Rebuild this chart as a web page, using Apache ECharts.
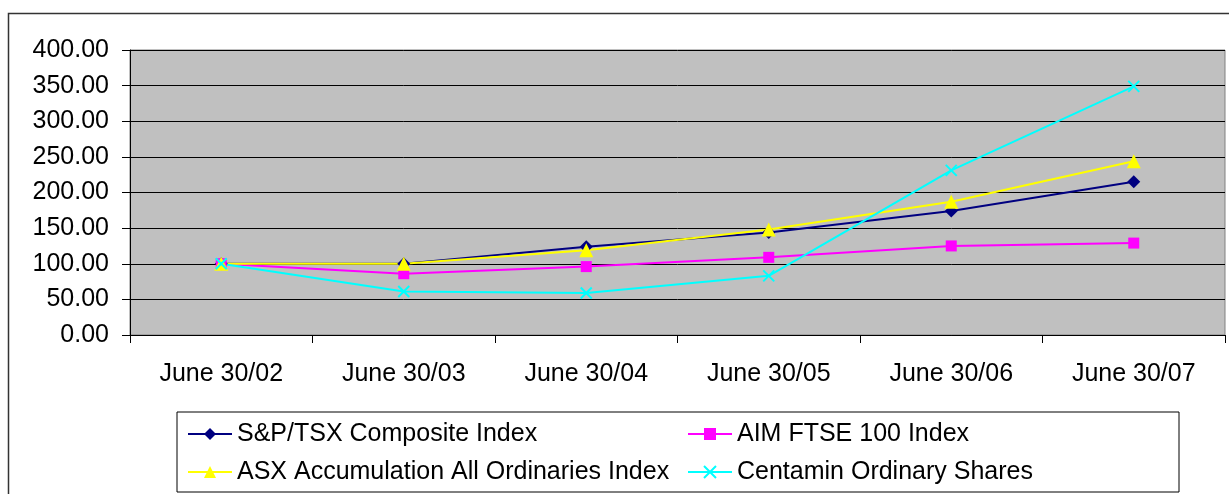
<!DOCTYPE html>
<html>
<head>
<meta charset="utf-8">
<script src="https://cdn.jsdelivr.net/npm/echarts@6/dist/echarts.min.js"></script>
<style>
  html, body { margin: 0; padding: 0; background: #fff; }
  #chart { width: 1229px; height: 494px; }
</style>
</head>
<body>
<div id="chart"></div>
<script>
var categories = ['June 30/02', 'June 30/03', 'June 30/04', 'June 30/05', 'June 30/06', 'June 30/07'];
var spTsx = [100, 100, 124, 144, 174, 215];
var aimFtse = [100, 86, 96, 109, 125, 129];
var asxAcc = [100, 100, 119, 148, 187, 244];
var centamin = [100, 61, 59, 83, 231, 349];

var FONT = "'Liberation Sans', Arial, sans-serif";

var chart = echarts.init(document.getElementById('chart'));

function lineSeries(name, data, color, symbol, size, extra) {
  var s = {
    name: name,
    type: 'line',
    data: data,
    symbol: symbol,
    symbolSize: size,
    showSymbol: true,
    lineStyle: { color: color, width: 2 },
    itemStyle: { color: color, borderWidth: 0 },
    emphasis: { disabled: true }
  };
  if (extra) {
    s.itemStyle = extra;
  }
  return s;
}

var option = {
  animation: false,
  backgroundColor: '#fff',
  textStyle: { fontFamily: FONT },
  // outer frame, cut off at the right and bottom edges
  graphic: [{
    type: 'rect',
    shape: { x: 8.5, y: 13.5, width: 1260, height: 520 },
    style: { fill: 'none', stroke: '#333', lineWidth: 1.5 },
    silent: true
  }],
  grid: {
    left: 130,
    top: 50,
    right: 4,
    bottom: 159,
    show: true,
    backgroundColor: '#C0C0C0',
    borderColor: '#808080',
    borderWidth: 1
  },
  legend: {
    left: 177,
    top: 412,
    width: 1000,
    padding: [7, 0, 5, 10],
    borderColor: '#000',
    borderWidth: 1,
    backgroundColor: '#fff',
    itemWidth: 44,
    itemHeight: 15,
    itemGap: 8,
    textStyle: {
      fontFamily: FONT,
      fontSize: 25,
      color: '#000',
      width: 442,
      lineHeight: 30
    },
    data: ['S&P/TSX Composite Index', 'AIM FTSE 100 Index', 'ASX Accumulation All Ordinaries Index', 'Centamin Ordinary Shares']
  },
  xAxis: {
    type: 'category',
    data: categories,
    boundaryGap: true,
    axisLine: { lineStyle: { color: '#000', width: 1 } },
    axisTick: { show: true, length: 8, lineStyle: { color: '#000' } },
    axisLabel: { fontFamily: FONT, fontSize: 25, color: '#000', margin: 27, interval: 0 },
    splitLine: { show: false }
  },
  yAxis: {
    type: 'value',
    min: 0,
    max: 400,
    interval: 50,
    axisLine: { show: true, lineStyle: { color: '#000', width: 1 } },
    axisTick: { show: true, length: 8, lineStyle: { color: '#000' } },
    axisLabel: {
      fontFamily: FONT,
      fontSize: 25,
      color: '#000',
      margin: 21,
      formatter: function (v) { return v.toFixed(2); }
    },
    splitLine: { show: true, lineStyle: { color: '#000', width: 1 } }
  },
  series: [
    lineSeries('S&P/TSX Composite Index', spTsx, '#000080', 'diamond', 13),
    lineSeries('AIM FTSE 100 Index', aimFtse, '#FF00FF', 'rect', 11),
    lineSeries('ASX Accumulation All Ordinaries Index', asxAcc, '#FFFF00', 'triangle', 14),
    lineSeries('Centamin Ordinary Shares', centamin, '#00FFFF', 'path://M0,0L10,10M10,0L0,10', 11,
      { color: '#00FFFF', borderColor: '#00FFFF', borderWidth: 2 })
  ]
};

chart.setOption(option);
</script>
</body>
</html>
